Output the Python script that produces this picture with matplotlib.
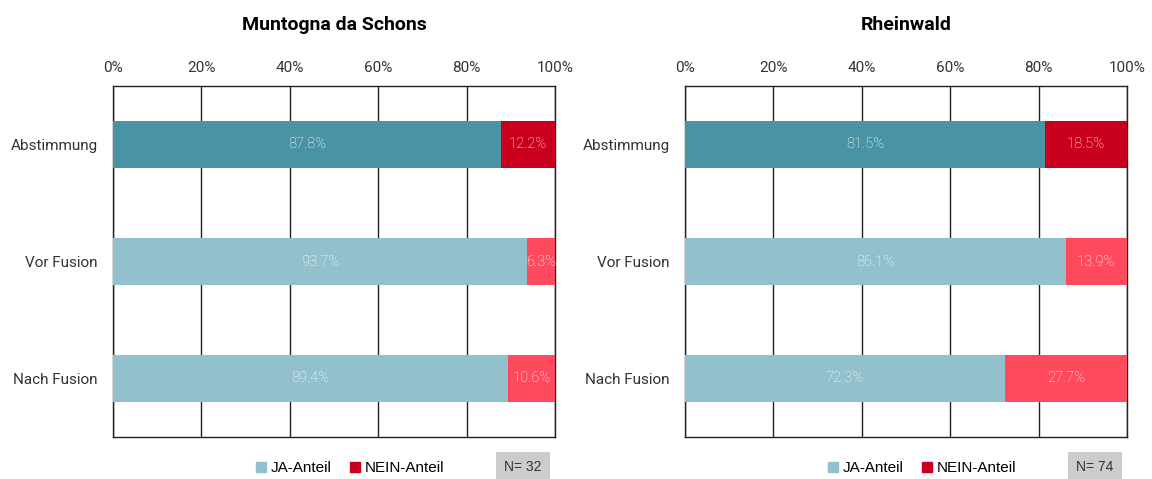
import matplotlib.pyplot as plt
from matplotlib.lines import Line2D
import numpy as np

plt.rcParams['font.family'] = ['Roboto', 'DejaVu Sans']

# Data
categories = ['Abstimmung', 'Vor Fusion', 'Nach Fusion']
titles = ['Muntogna da Schons', 'Rheinwald']
ja_values = [[87.8, 93.7, 89.4], [81.5, 86.1, 72.3]]
nein_values = [[12.2, 6.3, 10.6], [18.5, 13.9, 27.7]]
n_counts = [32, 74]
ticks = [0, 20, 40, 60, 80, 100]

# Colours: first row is the vote, the others are the survey
ja_colors = ['#4A93A4', '#92C0CC', '#92C0CC']
nein_colors = ['#C8001E', '#FF4A5E', '#FF4A5E']

fig = plt.figure(figsize=(11.52, 4.79), dpi=100)
lefts = [113 / 1152, 685 / 1152]
W, H = 1152, 479

for i in range(2):
    ax = fig.add_axes([lefts[i], 42 / H, 442 / W, 351 / H])
    y = np.arange(len(categories))
    ja = np.array(ja_values[i])
    nein = np.array(nein_values[i])
    ax.barh(y, ja, height=0.4, color=ja_colors, zorder=3)
    ax.barh(y, nein, left=ja, height=0.4, color=nein_colors, zorder=3)
    for yy, a, b in zip(y, ja, nein):
        ax.text(a / 2, yy, f'{a:.1f}%', ha='center', va='center',
                color='white', fontsize=10.5, fontweight='light', zorder=4)
        ax.text(a + b / 2, yy, f'{b:.1f}%', ha='center', va='center',
                color='white', fontsize=10.5, fontweight='light', zorder=4)
    ax.set_xlim(0, 100)
    ax.set_ylim(2.5, -0.5)
    ax.set_yticks(y)
    ax.set_yticklabels(categories, fontsize=11, color='#333333')
    ax.set_xticks(ticks)
    ax.set_xticklabels([f'{t}%' for t in ticks], fontsize=11, color='#333333')
    ax.xaxis.tick_top()
    ax.tick_params(length=0, pad=8)
    ax.tick_params(axis='y', pad=11)
    ax.grid(axis='x', color='#222222', linewidth=1, zorder=0)
    for s in ax.spines.values():
        s.set_color('#222222')
        s.set_linewidth(1)
    ax.set_title(titles[i], fontsize=14, fontweight='bold', pad=40)

    # Legend below the plot
    handles = [Line2D([], [], marker='s', linestyle='', color='#92C0CC',
                      markersize=6.5, label='JA-Anteil'),
               Line2D([], [], marker='s', linestyle='', color='#C8001E',
                      markersize=6.5, label='NEIN-Anteil')]
    fig.legend(handles=handles, loc='center',
               bbox_to_anchor=(lefts[i] + 234 / W, 11 / H), ncol=2,
               frameon=False, handletextpad=-0.1, columnspacing=0.8,
               handlelength=1.5,
               prop={'family': 'Liberation Sans', 'size': 11})
    fig.text(lefts[i] + 410 / W, 12 / H, f'N= {n_counts[i]}', ha='center',
             va='center', fontsize=10, family='Liberation Sans', color='#333333',
             bbox=dict(boxstyle='square,pad=0.6', facecolor='#CCCCCC',
                       edgecolor='none'))

fig.savefig('out.png', dpi=100)
